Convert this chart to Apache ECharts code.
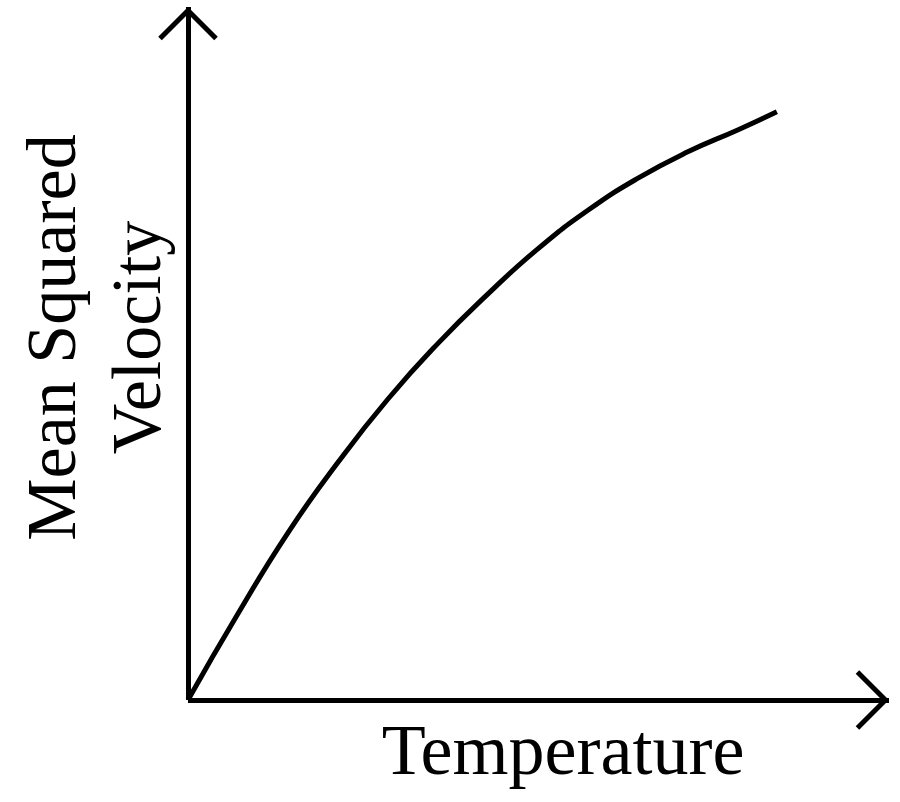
<!DOCTYPE html>
<html>
<head>
<meta charset="utf-8">
<script src="https://cdn.jsdelivr.net/npm/echarts@6/dist/echarts.min.js"></script>
<style>
	html, body { margin: 0; padding: 0; background: #fff; }
	#chart { width: 900px; height: 802px; }
</style>
</head>
<body>
<div id="chart"></div>
<script>
// values (axes run 0..100, no units shown)
var temperature = [0, 7.1, 14.3, 21.4, 28.5, 35.7, 42.8, 49.9, 57.1, 64.2, 71.3, 78.5, 84.0];
var meanSquaredVelocity = [0, 12.4, 24.2, 34.3, 43.4, 51.5, 58.6, 65.1, 70.7, 75.3, 79.1, 82.3, 84.9];
var xName = 'Temperature';
var yName = 'Mean Squared\nVelocity';

// open chevron arrow head, pointing up (echarts turns it for the x axis)
var chevron = 'path://M30,0 L59.77,29.77 L56.23,33.31 L30,7.08 L3.77,33.31 L0.23,29.77 Z';
var chevronSize = [59.54, 33.31];

var fontFamily = '"Times New Roman", "Liberation Serif", serif';

var points = [];
for (var i = 0; i < temperature.length; i++) {
	points.push([temperature[i], meanSquaredVelocity[i]]);
}

var axisLine = {
	show: true,
	symbol: ['none', chevron],
	symbolSize: chevronSize,
	symbolOffset: [0, -chevronSize[1] / 2],
	lineStyle: {
		color: '#000',
		width: 5,
		cap: 'butt'
	}
};

var myChart = echarts.init(document.getElementById('chart'));
var option = {
	backgroundColor: '#fff',
	animation: false,
	grid: {
		left: 188,
		right: 11,
		top: 7,
		bottom: 102
	},
	xAxis: {
		type: 'value',
		min: 0,
		max: 100,
		name: xName,
		nameLocation: 'middle',
		nameGap: 15,
		nameTextStyle: {
			fontFamily: fontFamily,
			fontSize: 72,
			lineHeight: 80,
			color: '#000',
			padding: [0, 0, 0, 49]
		},
		axisLine: axisLine,
		axisTick: { show: false },
		axisLabel: { show: false },
		splitLine: { show: false }
	},
	yAxis: {
		type: 'value',
		min: 0,
		max: 100,
		name: yName,
		nameLocation: 'middle',
		nameRotate: 90,
		nameGap: 4,
		nameTextStyle: {
			fontFamily: fontFamily,
			fontSize: 70,
			lineHeight: 85,
			color: '#000',
			padding: [0, 0, 0, 32]
		},
		axisLine: axisLine,
		axisTick: { show: false },
		axisLabel: { show: false },
		splitLine: { show: false }
	},
	series: [{
		name: 'curve',
		type: 'line',
		smooth: 0.5,
		showSymbol: false,
		lineStyle: {
			color: '#000',
			width: 5
		},
		data: points
	}]
};
myChart.setOption(option);
</script>
</body>
</html>
